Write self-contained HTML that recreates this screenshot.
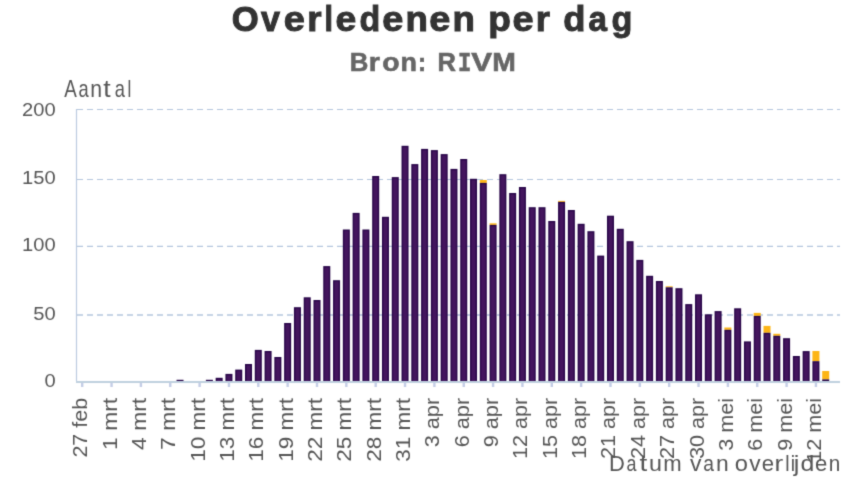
<!DOCTYPE html>
<html><head><meta charset="utf-8"><style>
html,body{margin:0;padding:0;background:#fff;}
body{width:850px;height:477px;overflow:hidden;}
svg{display:block;font-family:"Liberation Sans",sans-serif;}
.xl{font-size:19.5px;fill:#555;}
.yl{font-size:18.7px;fill:#555;}
.t1{font-weight:bold;fill:#333;stroke:#333;stroke-width:1px;}
.t2{font-weight:bold;fill:#666;stroke:#666;stroke-width:0.6px;}
.t3{fill:#555;}
</style></head><body>
<svg width="850" height="477" viewBox="0 0 850 477">
<defs><filter id="b" x="0" y="0" width="100%" height="100%" color-interpolation-filters="sRGB"><feConvolveMatrix order="3" kernelMatrix="0.01917 0.10012 0.01917 0.10012 0.52283 0.10012 0.01917 0.10012 0.01917" edgeMode="duplicate"/></filter></defs><g filter="url(#b)"><rect width="850" height="477" fill="#fff"/>
<line x1="77" y1="109.5" x2="840" y2="109.5" stroke="#b4c6de" stroke-width="1" stroke-dasharray="6 4"/>
<line x1="77" y1="179.5" x2="840" y2="179.5" stroke="#b4c6de" stroke-width="1" stroke-dasharray="6 4"/>
<line x1="77" y1="246.4" x2="840" y2="246.4" stroke="#b4c6de" stroke-width="1.2" stroke-dasharray="6 4"/>
<line x1="77" y1="315" x2="840" y2="315" stroke="#b4c6de" stroke-width="1.5" stroke-dasharray="6 4"/>
<line x1="76.5" y1="109" x2="76.5" y2="381" stroke="#bccbe0" stroke-width="1.2"/>
<rect x="76" y="381" width="764" height="2" fill="#bfd0df"/>
<rect x="81.00" y="383" width="2.4" height="4" fill="#c4cde6"/>
<rect x="110.35" y="383" width="2.4" height="4" fill="#c4cde6"/>
<rect x="139.70" y="383" width="2.4" height="4" fill="#c4cde6"/>
<rect x="169.05" y="383" width="2.4" height="4" fill="#c4cde6"/>
<rect x="198.40" y="383" width="2.4" height="4" fill="#c4cde6"/>
<rect x="227.75" y="383" width="2.4" height="4" fill="#c4cde6"/>
<rect x="257.09" y="383" width="2.4" height="4" fill="#c4cde6"/>
<rect x="286.44" y="383" width="2.4" height="4" fill="#c4cde6"/>
<rect x="315.79" y="383" width="2.4" height="4" fill="#c4cde6"/>
<rect x="345.14" y="383" width="2.4" height="4" fill="#c4cde6"/>
<rect x="374.49" y="383" width="2.4" height="4" fill="#c4cde6"/>
<rect x="403.84" y="383" width="2.4" height="4" fill="#c4cde6"/>
<rect x="433.19" y="383" width="2.4" height="4" fill="#c4cde6"/>
<rect x="462.54" y="383" width="2.4" height="4" fill="#c4cde6"/>
<rect x="491.89" y="383" width="2.4" height="4" fill="#c4cde6"/>
<rect x="521.23" y="383" width="2.4" height="4" fill="#c4cde6"/>
<rect x="550.58" y="383" width="2.4" height="4" fill="#c4cde6"/>
<rect x="579.93" y="383" width="2.4" height="4" fill="#c4cde6"/>
<rect x="609.28" y="383" width="2.4" height="4" fill="#c4cde6"/>
<rect x="638.63" y="383" width="2.4" height="4" fill="#c4cde6"/>
<rect x="667.98" y="383" width="2.4" height="4" fill="#c4cde6"/>
<rect x="697.33" y="383" width="2.4" height="4" fill="#c4cde6"/>
<rect x="726.68" y="383" width="2.4" height="4" fill="#c4cde6"/>
<rect x="756.03" y="383" width="2.4" height="4" fill="#c4cde6"/>
<rect x="785.38" y="383" width="2.4" height="4" fill="#c4cde6"/>
<rect x="814.72" y="383" width="2.4" height="4" fill="#c4cde6"/>
<rect x="176.53" y="379.8" width="7.0" height="1.20" fill="#260447"/>
<rect x="205.88" y="379.8" width="7.0" height="1.20" fill="#260447"/>
<rect x="215.66" y="377.8" width="7.0" height="3.20" fill="#260447"/>
<rect x="216.96" y="379.10" width="4.40" height="1.90" fill="#43155d"/>
<rect x="225.44" y="373.9" width="7.0" height="7.10" fill="#260447"/>
<rect x="226.75" y="375.20" width="4.40" height="5.80" fill="#43155d"/>
<rect x="235.23" y="369.6" width="7.0" height="11.40" fill="#260447"/>
<rect x="236.53" y="370.90" width="4.40" height="10.10" fill="#43155d"/>
<rect x="245.01" y="364" width="7.0" height="17.00" fill="#260447"/>
<rect x="246.31" y="365.30" width="4.40" height="15.70" fill="#43155d"/>
<rect x="254.79" y="349.9" width="7.0" height="31.10" fill="#260447"/>
<rect x="256.09" y="351.20" width="4.40" height="29.80" fill="#43155d"/>
<rect x="264.58" y="351" width="7.0" height="30.00" fill="#260447"/>
<rect x="265.88" y="352.30" width="4.40" height="28.70" fill="#43155d"/>
<rect x="274.36" y="357" width="7.0" height="24.00" fill="#260447"/>
<rect x="275.66" y="358.30" width="4.40" height="22.70" fill="#43155d"/>
<rect x="284.14" y="323" width="7.0" height="58.00" fill="#260447"/>
<rect x="285.44" y="324.30" width="4.40" height="56.70" fill="#43155d"/>
<rect x="293.93" y="307.2" width="7.0" height="73.80" fill="#260447"/>
<rect x="295.23" y="308.50" width="4.40" height="72.50" fill="#43155d"/>
<rect x="303.71" y="297.3" width="7.0" height="83.70" fill="#260447"/>
<rect x="305.01" y="298.60" width="4.40" height="82.40" fill="#43155d"/>
<rect x="313.49" y="300" width="7.0" height="81.00" fill="#260447"/>
<rect x="314.79" y="301.30" width="4.40" height="79.70" fill="#43155d"/>
<rect x="323.27" y="266.1" width="7.0" height="114.90" fill="#260447"/>
<rect x="324.57" y="267.40" width="4.40" height="113.60" fill="#43155d"/>
<rect x="333.06" y="280.2" width="7.0" height="100.80" fill="#260447"/>
<rect x="334.36" y="281.50" width="4.40" height="99.50" fill="#43155d"/>
<rect x="342.84" y="229.5" width="7.0" height="151.50" fill="#260447"/>
<rect x="344.14" y="230.80" width="4.40" height="150.20" fill="#43155d"/>
<rect x="352.62" y="212.9" width="7.0" height="168.10" fill="#260447"/>
<rect x="353.92" y="214.20" width="4.40" height="166.80" fill="#43155d"/>
<rect x="362.41" y="229.5" width="7.0" height="151.50" fill="#260447"/>
<rect x="363.71" y="230.80" width="4.40" height="150.20" fill="#43155d"/>
<rect x="372.19" y="176" width="7.0" height="205.00" fill="#260447"/>
<rect x="373.49" y="177.30" width="4.40" height="203.70" fill="#43155d"/>
<rect x="381.97" y="216.8" width="7.0" height="164.20" fill="#260447"/>
<rect x="383.27" y="218.10" width="4.40" height="162.90" fill="#43155d"/>
<rect x="391.76" y="177.1" width="7.0" height="203.90" fill="#260447"/>
<rect x="393.06" y="178.40" width="4.40" height="202.60" fill="#43155d"/>
<rect x="401.54" y="145.8" width="7.0" height="235.20" fill="#260447"/>
<rect x="402.84" y="147.10" width="4.40" height="233.90" fill="#43155d"/>
<rect x="411.32" y="164.1" width="7.0" height="216.90" fill="#260447"/>
<rect x="412.62" y="165.40" width="4.40" height="215.60" fill="#43155d"/>
<rect x="421.10" y="148.9" width="7.0" height="232.10" fill="#260447"/>
<rect x="422.40" y="150.20" width="4.40" height="230.80" fill="#43155d"/>
<rect x="430.89" y="150.1" width="7.0" height="230.90" fill="#260447"/>
<rect x="432.19" y="151.40" width="4.40" height="229.60" fill="#43155d"/>
<rect x="440.67" y="154.1" width="7.0" height="226.90" fill="#260447"/>
<rect x="441.97" y="155.40" width="4.40" height="225.60" fill="#43155d"/>
<rect x="450.45" y="168.9" width="7.0" height="212.10" fill="#260447"/>
<rect x="451.75" y="170.20" width="4.40" height="210.80" fill="#43155d"/>
<rect x="460.24" y="159" width="7.0" height="222.00" fill="#260447"/>
<rect x="461.54" y="160.30" width="4.40" height="220.70" fill="#43155d"/>
<rect x="470.02" y="178.8" width="7.0" height="202.20" fill="#260447"/>
<rect x="471.32" y="180.10" width="4.40" height="200.90" fill="#43155d"/>
<rect x="479.80" y="180" width="7.0" height="2.90" fill="#fdb515"/>
<rect x="479.80" y="182.9" width="7.0" height="198.10" fill="#260447"/>
<rect x="481.10" y="184.20" width="4.40" height="196.80" fill="#43155d"/>
<rect x="489.59" y="223.3" width="7.0" height="1.60" fill="#fdb515"/>
<rect x="489.59" y="224.9" width="7.0" height="156.10" fill="#260447"/>
<rect x="490.89" y="226.20" width="4.40" height="154.80" fill="#43155d"/>
<rect x="499.37" y="174.2" width="7.0" height="206.80" fill="#260447"/>
<rect x="500.67" y="175.50" width="4.40" height="205.50" fill="#43155d"/>
<rect x="509.15" y="193" width="7.0" height="188.00" fill="#260447"/>
<rect x="510.45" y="194.30" width="4.40" height="186.70" fill="#43155d"/>
<rect x="518.93" y="187" width="7.0" height="194.00" fill="#260447"/>
<rect x="520.23" y="188.30" width="4.40" height="192.70" fill="#43155d"/>
<rect x="528.72" y="207.2" width="7.0" height="173.80" fill="#260447"/>
<rect x="530.02" y="208.50" width="4.40" height="172.50" fill="#43155d"/>
<rect x="538.50" y="207.2" width="7.0" height="173.80" fill="#260447"/>
<rect x="539.80" y="208.50" width="4.40" height="172.50" fill="#43155d"/>
<rect x="548.28" y="221" width="7.0" height="160.00" fill="#260447"/>
<rect x="549.58" y="222.30" width="4.40" height="158.70" fill="#43155d"/>
<rect x="558.07" y="200.9" width="7.0" height="1.00" fill="#fdb515"/>
<rect x="558.07" y="201.9" width="7.0" height="179.10" fill="#260447"/>
<rect x="559.37" y="203.20" width="4.40" height="177.80" fill="#43155d"/>
<rect x="567.85" y="210" width="7.0" height="171.00" fill="#260447"/>
<rect x="569.15" y="211.30" width="4.40" height="169.70" fill="#43155d"/>
<rect x="577.63" y="223.8" width="7.0" height="157.20" fill="#260447"/>
<rect x="578.93" y="225.10" width="4.40" height="155.90" fill="#43155d"/>
<rect x="587.42" y="231.2" width="7.0" height="149.80" fill="#260447"/>
<rect x="588.72" y="232.50" width="4.40" height="148.50" fill="#43155d"/>
<rect x="597.20" y="255.6" width="7.0" height="125.40" fill="#260447"/>
<rect x="598.50" y="256.90" width="4.40" height="124.10" fill="#43155d"/>
<rect x="606.98" y="215.7" width="7.0" height="165.30" fill="#260447"/>
<rect x="608.28" y="217.00" width="4.40" height="164.00" fill="#43155d"/>
<rect x="616.76" y="228.8" width="7.0" height="152.20" fill="#260447"/>
<rect x="618.06" y="230.10" width="4.40" height="150.90" fill="#43155d"/>
<rect x="626.55" y="241.2" width="7.0" height="139.80" fill="#260447"/>
<rect x="627.85" y="242.50" width="4.40" height="138.50" fill="#43155d"/>
<rect x="636.33" y="259.9" width="7.0" height="121.10" fill="#260447"/>
<rect x="637.63" y="261.20" width="4.40" height="119.80" fill="#43155d"/>
<rect x="646.11" y="275.8" width="7.0" height="105.20" fill="#260447"/>
<rect x="647.41" y="277.10" width="4.40" height="103.90" fill="#43155d"/>
<rect x="655.90" y="281" width="7.0" height="100.00" fill="#260447"/>
<rect x="657.20" y="282.30" width="4.40" height="98.70" fill="#43155d"/>
<rect x="665.68" y="286.3" width="7.0" height="1.00" fill="#fdb515"/>
<rect x="665.68" y="287.3" width="7.0" height="93.70" fill="#260447"/>
<rect x="666.98" y="288.60" width="4.40" height="92.40" fill="#43155d"/>
<rect x="675.46" y="288.2" width="7.0" height="92.80" fill="#260447"/>
<rect x="676.76" y="289.50" width="4.40" height="91.50" fill="#43155d"/>
<rect x="685.25" y="304.1" width="7.0" height="76.90" fill="#260447"/>
<rect x="686.55" y="305.40" width="4.40" height="75.60" fill="#43155d"/>
<rect x="695.03" y="294.3" width="7.0" height="86.70" fill="#260447"/>
<rect x="696.33" y="295.60" width="4.40" height="85.40" fill="#43155d"/>
<rect x="704.81" y="314.3" width="7.0" height="66.70" fill="#260447"/>
<rect x="706.11" y="315.60" width="4.40" height="65.40" fill="#43155d"/>
<rect x="714.60" y="311.1" width="7.0" height="69.90" fill="#260447"/>
<rect x="715.89" y="312.40" width="4.40" height="68.60" fill="#43155d"/>
<rect x="724.38" y="327.5" width="7.0" height="2.30" fill="#fdb515"/>
<rect x="724.38" y="329.8" width="7.0" height="51.20" fill="#260447"/>
<rect x="725.68" y="331.10" width="4.40" height="49.90" fill="#43155d"/>
<rect x="734.16" y="308.3" width="7.0" height="72.70" fill="#260447"/>
<rect x="735.46" y="309.60" width="4.40" height="71.40" fill="#43155d"/>
<rect x="743.94" y="341.4" width="7.0" height="39.60" fill="#260447"/>
<rect x="745.24" y="342.70" width="4.40" height="38.30" fill="#43155d"/>
<rect x="753.73" y="312.9" width="7.0" height="3.00" fill="#fdb515"/>
<rect x="753.73" y="315.9" width="7.0" height="65.10" fill="#260447"/>
<rect x="755.03" y="317.20" width="4.40" height="63.80" fill="#43155d"/>
<rect x="763.51" y="325.9" width="7.0" height="6.90" fill="#fdb515"/>
<rect x="763.51" y="332.8" width="7.0" height="48.20" fill="#260447"/>
<rect x="764.81" y="334.10" width="4.40" height="46.90" fill="#43155d"/>
<rect x="773.29" y="333.8" width="7.0" height="2.00" fill="#fdb515"/>
<rect x="773.29" y="335.8" width="7.0" height="45.20" fill="#260447"/>
<rect x="774.59" y="337.10" width="4.40" height="43.90" fill="#43155d"/>
<rect x="783.08" y="338.2" width="7.0" height="42.80" fill="#260447"/>
<rect x="784.38" y="339.50" width="4.40" height="41.50" fill="#43155d"/>
<rect x="792.86" y="356" width="7.0" height="25.00" fill="#260447"/>
<rect x="794.16" y="357.30" width="4.40" height="23.70" fill="#43155d"/>
<rect x="802.64" y="351.1" width="7.0" height="29.90" fill="#260447"/>
<rect x="803.94" y="352.40" width="4.40" height="28.60" fill="#43155d"/>
<rect x="812.42" y="351" width="7.0" height="10.20" fill="#fdb515"/>
<rect x="812.42" y="361.2" width="7.0" height="19.80" fill="#260447"/>
<rect x="813.72" y="362.50" width="4.40" height="18.50" fill="#43155d"/>
<rect x="822.21" y="371" width="7.0" height="8.40" fill="#fdb515"/>
<rect x="822.21" y="379.4" width="7.0" height="1.60" fill="#260447"/>
<text transform="translate(87.20,397.9) rotate(-90)" text-anchor="end" class="xl" textLength="59.7" lengthAdjust="spacingAndGlyphs">27 feb</text>
<text transform="translate(116.55,397.9) rotate(-90)" text-anchor="end" class="xl" textLength="52.0" lengthAdjust="spacingAndGlyphs">1 mrt</text>
<text transform="translate(145.90,397.9) rotate(-90)" text-anchor="end" class="xl" textLength="52.0" lengthAdjust="spacingAndGlyphs">4 mrt</text>
<text transform="translate(175.25,397.9) rotate(-90)" text-anchor="end" class="xl" textLength="52.0" lengthAdjust="spacingAndGlyphs">7 mrt</text>
<text transform="translate(204.60,397.9) rotate(-90)" text-anchor="end" class="xl" textLength="63.9" lengthAdjust="spacingAndGlyphs">10 mrt</text>
<text transform="translate(233.94,397.9) rotate(-90)" text-anchor="end" class="xl" textLength="63.9" lengthAdjust="spacingAndGlyphs">13 mrt</text>
<text transform="translate(263.29,397.9) rotate(-90)" text-anchor="end" class="xl" textLength="63.9" lengthAdjust="spacingAndGlyphs">16 mrt</text>
<text transform="translate(292.64,397.9) rotate(-90)" text-anchor="end" class="xl" textLength="63.9" lengthAdjust="spacingAndGlyphs">19 mrt</text>
<text transform="translate(321.99,397.9) rotate(-90)" text-anchor="end" class="xl" textLength="63.9" lengthAdjust="spacingAndGlyphs">22 mrt</text>
<text transform="translate(351.34,397.9) rotate(-90)" text-anchor="end" class="xl" textLength="63.9" lengthAdjust="spacingAndGlyphs">25 mrt</text>
<text transform="translate(380.69,397.9) rotate(-90)" text-anchor="end" class="xl" textLength="63.9" lengthAdjust="spacingAndGlyphs">28 mrt</text>
<text transform="translate(410.04,397.9) rotate(-90)" text-anchor="end" class="xl" textLength="63.9" lengthAdjust="spacingAndGlyphs">31 mrt</text>
<text transform="translate(439.39,397.9) rotate(-90)" text-anchor="end" class="xl" textLength="49.3" lengthAdjust="spacingAndGlyphs">3 apr</text>
<text transform="translate(468.74,397.9) rotate(-90)" text-anchor="end" class="xl" textLength="49.3" lengthAdjust="spacingAndGlyphs">6 apr</text>
<text transform="translate(498.09,397.9) rotate(-90)" text-anchor="end" class="xl" textLength="49.3" lengthAdjust="spacingAndGlyphs">9 apr</text>
<text transform="translate(527.43,397.9) rotate(-90)" text-anchor="end" class="xl" textLength="61.2" lengthAdjust="spacingAndGlyphs">12 apr</text>
<text transform="translate(556.78,397.9) rotate(-90)" text-anchor="end" class="xl" textLength="61.2" lengthAdjust="spacingAndGlyphs">15 apr</text>
<text transform="translate(586.13,397.9) rotate(-90)" text-anchor="end" class="xl" textLength="61.2" lengthAdjust="spacingAndGlyphs">18 apr</text>
<text transform="translate(615.48,397.9) rotate(-90)" text-anchor="end" class="xl" textLength="61.2" lengthAdjust="spacingAndGlyphs">21 apr</text>
<text transform="translate(644.83,397.9) rotate(-90)" text-anchor="end" class="xl" textLength="61.2" lengthAdjust="spacingAndGlyphs">24 apr</text>
<text transform="translate(674.18,397.9) rotate(-90)" text-anchor="end" class="xl" textLength="61.2" lengthAdjust="spacingAndGlyphs">27 apr</text>
<text transform="translate(703.53,397.9) rotate(-90)" text-anchor="end" class="xl" textLength="61.2" lengthAdjust="spacingAndGlyphs">30 apr</text>
<text transform="translate(732.88,397.9) rotate(-90)" text-anchor="end" class="xl" textLength="52.9" lengthAdjust="spacingAndGlyphs">3 mei</text>
<text transform="translate(762.23,397.9) rotate(-90)" text-anchor="end" class="xl" textLength="52.9" lengthAdjust="spacingAndGlyphs">6 mei</text>
<text transform="translate(791.58,397.9) rotate(-90)" text-anchor="end" class="xl" textLength="52.9" lengthAdjust="spacingAndGlyphs">9 mei</text>
<text transform="translate(820.92,397.9) rotate(-90)" text-anchor="end" class="xl" textLength="64.8" lengthAdjust="spacingAndGlyphs">12 mei</text>
<text x="55.6" y="115.9" text-anchor="end" class="yl" textLength="33.6" lengthAdjust="spacingAndGlyphs">200</text>
<text x="55.6" y="184.3" text-anchor="end" class="yl" textLength="33.6" lengthAdjust="spacingAndGlyphs">150</text>
<text x="55.6" y="251.0" text-anchor="end" class="yl" textLength="33.6" lengthAdjust="spacingAndGlyphs">100</text>
<text x="55.6" y="319.8" text-anchor="end" class="yl" textLength="22.4" lengthAdjust="spacingAndGlyphs">50</text>
<text x="55.6" y="386.6" text-anchor="end" class="yl" textLength="11.2" lengthAdjust="spacingAndGlyphs">0</text>
<text transform="translate(231.83,30.5) scale(0.991,1)" font-size="35" class="t1">O</text>
<text transform="translate(261.12,30.5) scale(0.975,1)" font-size="35" class="t1">v</text>
<text transform="translate(283.77,30.5) scale(1.083,1)" font-size="35" class="t1">e</text>
<text transform="translate(307.23,30.5) scale(1.048,1)" font-size="35" class="t1">r</text>
<text transform="translate(324.61,30.5) scale(0.875,1)" font-size="35" class="t1">l</text>
<text transform="translate(335.59,30.5) scale(1.065,1)" font-size="35" class="t1">e</text>
<text transform="translate(359.46,30.5) scale(0.970,1)" font-size="35" class="t1">d</text>
<text transform="translate(382.27,30.5) scale(1.083,1)" font-size="35" class="t1">e</text>
<text transform="translate(405.53,30.5) scale(1.047,1)" font-size="35" class="t1">n</text>
<text transform="translate(429.37,30.5) scale(1.083,1)" font-size="35" class="t1">e</text>
<text transform="translate(452.53,30.5) scale(1.047,1)" font-size="35" class="t1">n</text>
<text transform="translate(488.30,30.5) scale(1.060,1)" font-size="35" class="t1">p</text>
<text transform="translate(512.57,30.5) scale(1.083,1)" font-size="35" class="t1">e</text>
<text transform="translate(535.85,30.5) scale(1.039,1)" font-size="35" class="t1">r</text>
<text transform="translate(563.16,30.5) scale(1.038,1)" font-size="35" class="t1">d</text>
<text transform="translate(588.38,30.5) scale(0.948,1)" font-size="35" class="t1">a</text>
<text transform="translate(611.45,30.5) scale(0.977,1)" font-size="35" class="t1">g</text>
<text transform="translate(349.73,70.6) scale(1.014,1)" font-size="25.4" class="t2">B</text>
<text transform="translate(368.67,70.6) scale(1.124,1)" font-size="25.4" class="t2">r</text>
<text transform="translate(382.14,70.6) scale(1.116,1)" font-size="25.4" class="t2">o</text>
<text transform="translate(400.58,70.6) scale(1.060,1)" font-size="25.4" class="t2">n</text>
<text transform="translate(418.02,70.6) scale(0.952,1)" font-size="25.4" class="t2">:</text>
<text transform="translate(437.44,70.6) scale(1.005,1)" font-size="25.4" class="t2">R</text>
<text transform="translate(471.24,70.6) scale(1.229,1)" font-size="25.4" class="t2">V</text>
<text transform="translate(492.36,70.6) scale(1.115,1)" font-size="25.4" class="t2">M</text>
<text transform="translate(458.05,70.6) scale(0.802,1)" font-size="27.6" class="t2" font-family="Liberation Mono">I</text>
<text transform="translate(64.31,96.9) scale(0.820,1)" font-size="23" class="t3">A</text>
<text transform="translate(78.57,96.9) scale(0.796,1)" font-size="23" class="t3">a</text>
<text transform="translate(90.24,96.9) scale(0.921,1)" font-size="23" class="t3">n</text>
<text transform="translate(103.15,96.9) scale(1.158,1)" font-size="23" class="t3">t</text>
<text transform="translate(114.77,96.9) scale(0.796,1)" font-size="23" class="t3">a</text>
<text transform="translate(127.60,96.9) scale(0.742,1)" font-size="23" class="t3">l</text>
<text transform="translate(608.95,470.6) scale(0.998,1)" font-size="22" class="t3">D</text>
<text transform="translate(626.49,470.6) scale(0.814,1)" font-size="22" class="t3">a</text>
<text transform="translate(639.53,470.6) scale(1.264,1)" font-size="22" class="t3">t</text>
<text transform="translate(649.04,470.6) scale(1.059,1)" font-size="22" class="t3">u</text>
<text transform="translate(663.18,470.6) scale(1.006,1)" font-size="22" class="t3">m</text>
<text transform="translate(689.97,470.6) scale(1.042,1)" font-size="22" class="t3">v</text>
<text transform="translate(703.33,470.6) scale(0.876,1)" font-size="22" class="t3">a</text>
<text transform="translate(715.93,470.6) scale(1.038,1)" font-size="22" class="t3">n</text>
<text transform="translate(734.75,470.6) scale(1.078,1)" font-size="22" class="t3">o</text>
<text transform="translate(749.17,470.6) scale(1.032,1)" font-size="22" class="t3">v</text>
<text transform="translate(761.81,470.6) scale(1.007,1)" font-size="22" class="t3">e</text>
<text transform="translate(774.52,470.6) scale(1.182,1)" font-size="22" class="t3">r</text>
<text transform="translate(785.25,470.6) scale(0.879,1)" font-size="22" class="t3">l</text>
<text transform="translate(790.86,470.6) scale(0.879,1)" font-size="22" class="t3">i</text>
<text transform="translate(793.86,470.6) scale(1.141,1)" font-size="22" class="t3">j</text>
<text transform="translate(800.60,470.6) scale(1.132,1)" font-size="22" class="t3">d</text>
<text transform="translate(815.01,470.6) scale(1.007,1)" font-size="22" class="t3">e</text>
<text transform="translate(828.87,470.6) scale(0.942,1)" font-size="22" class="t3">n</text>
</g>
</svg>
</body></html>
